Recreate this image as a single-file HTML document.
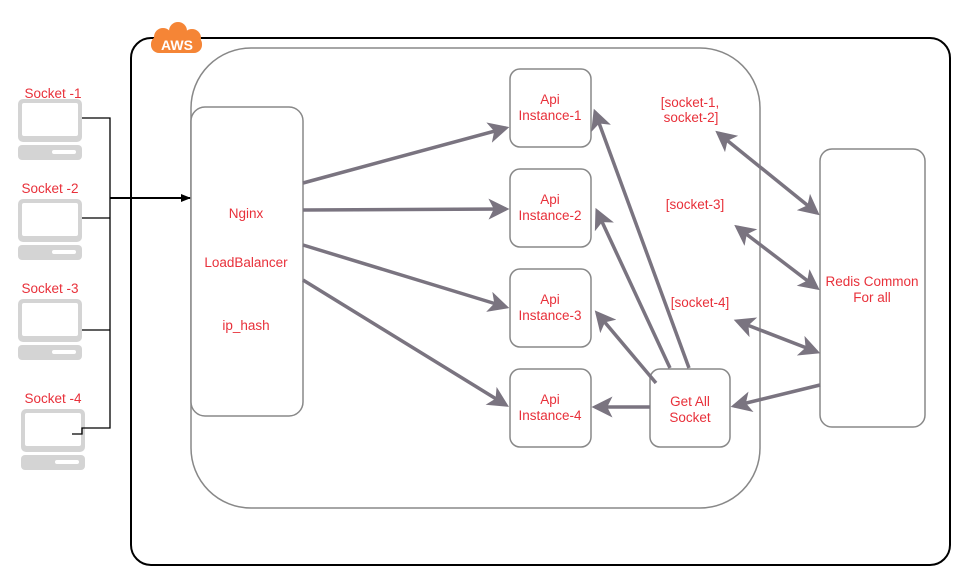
<!DOCTYPE html>
<html><head><style>
body{margin:0;background:#fff;}
svg text{font-family:"Liberation Sans",sans-serif;fill:#e8303a;font-size:13.5px;text-anchor:middle;}
</style></head><body>
<svg width="967" height="582" viewBox="0 0 967 582" xmlns="http://www.w3.org/2000/svg">
<defs>
<marker id="a" markerWidth="6" markerHeight="6" refX="5" refY="3" orient="auto-start-reverse" markerUnits="strokeWidth">
<path d="M0,0 L6,3 L0,6 L1.5,3 z" fill="#7a7480"/></marker>
<marker id="b" markerWidth="10" markerHeight="10" refX="9" refY="5" orient="auto" markerUnits="userSpaceOnUse">
<path d="M0,1 L10,5 L0,9 z" fill="#000"/></marker>
<g id="pc">
<rect x="0" y="0" width="64" height="43" rx="5" fill="#d4d4d4"/>
<rect x="4" y="4" width="56" height="33" rx="2" fill="#fff"/>
<rect x="0" y="46" width="64" height="15" rx="4" fill="#d4d4d4"/>
<rect x="34" y="51" width="24" height="4" rx="2" fill="#fff"/>
</g>
</defs>
<rect x="131" y="38" width="819" height="527" rx="20" fill="none" stroke="#000" stroke-width="2"/>
<g fill="#f58536">
<rect x="151" y="36" width="51" height="17" rx="8"/>
<circle cx="163" cy="37" r="9"/>
<circle cx="178" cy="31" r="9"/>
<circle cx="192" cy="38" r="9"/>
</g>
<text x="177" y="50" style="fill:#fff;font-size:14px;font-weight:bold;">AWS</text>
<rect x="191" y="48" width="569" height="460" rx="60" fill="none" stroke="#888" stroke-width="1.5"/>
<rect x="191" y="107" width="112" height="309" rx="14" fill="#fff" stroke="#888" stroke-width="1.5"/>
<text x="246" y="218">Nginx</text><text x="246" y="267">LoadBalancer</text><text x="246" y="330">ip_hash</text>
<g fill="#fff" stroke="#888" stroke-width="1.5">
<rect x="510" y="69" width="81" height="78" rx="10"/>
<rect x="510" y="169" width="81" height="78" rx="10"/>
<rect x="510" y="269" width="81" height="78" rx="10"/>
<rect x="510" y="369" width="81" height="78" rx="10"/>
<rect x="650" y="369" width="80" height="78" rx="10"/>
<rect x="820" y="149" width="105" height="278" rx="12"/>
</g>
<text x="550" y="104">Api</text><text x="550" y="120">Instance-1</text>
<text x="550" y="204">Api</text><text x="550" y="220">Instance-2</text>
<text x="550" y="304">Api</text><text x="550" y="320">Instance-3</text>
<text x="550" y="404">Api</text><text x="550" y="420">Instance-4</text>
<text x="690" y="406">Get All</text><text x="690" y="422">Socket</text>
<text x="872" y="286">Redis Common</text><text x="872" y="302">For all</text>
<text x="690" y="107">[socket-1,</text><text x="691" y="122">socket-2]</text>
<text x="695" y="209">[socket-3]</text>
<text x="700" y="307">[socket-4]</text>
<g stroke="#7a7480" stroke-width="3.5" fill="none" marker-end="url(#a)">
<line x1="303" y1="183" x2="506" y2="128"/>
<line x1="303" y1="210" x2="506" y2="209"/>
<line x1="303" y1="245" x2="506" y2="307"/>
<line x1="303" y1="280" x2="506" y2="405"/>
<line x1="650" y1="407" x2="595" y2="407"/>
<line x1="656" y1="383" x2="597" y2="313"/>
<line x1="670" y1="368" x2="597" y2="211"/>
<line x1="689" y1="368" x2="595" y2="112"/>
<line x1="820" y1="385" x2="734" y2="406"/>
<line x1="718" y1="133" x2="817" y2="213" marker-start="url(#a)"/>
<line x1="737" y1="227" x2="817" y2="288" marker-start="url(#a)"/>
<line x1="737" y1="321" x2="817" y2="352" marker-start="url(#a)"/>
</g>
<text x="53" y="98">Socket -1</text><text x="50" y="193">Socket -2</text>
<text x="50" y="293">Socket -3</text><text x="53" y="403">Socket -4</text>
<use href="#pc" x="18" y="99"/><use href="#pc" x="18" y="199"/>
<use href="#pc" x="18" y="299"/><use href="#pc" x="21" y="409"/>
<g stroke="#000" stroke-width="1.3" fill="none">
<polyline points="82,118 110,118 110,428 82,428 82,434 72,434"/>
<line x1="82" y1="218" x2="110" y2="218"/>
<line x1="82" y1="330" x2="110" y2="330"/>
<line x1="110" y1="198" x2="190" y2="198" stroke-width="2" marker-end="url(#b)"/>
</g>
</svg>
</body></html>
